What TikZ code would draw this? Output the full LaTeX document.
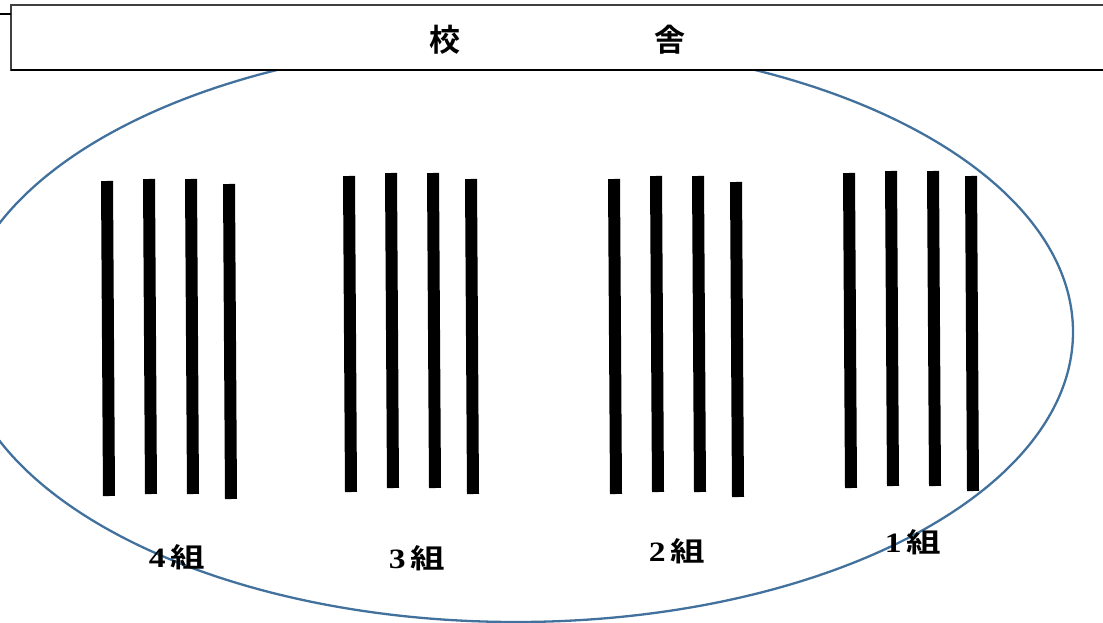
\documentclass[tikz,border=0pt]{standalone}
\usepackage{fontspec}
\newfontfamily\cjk{Noto Sans CJK JP}[BoldFont={* Bold}]
\newfontfamily\numf{Liberation Serif}
\definecolor{ellblue}{HTML}{41719C}
\newcommand{\grp}[1]{\scalebox{1.2}[1]{\numf\bfseries\fontsize{28}{28}\selectfont #1}\kern5pt\scalebox{1.28}[1]{組}}
\begin{document}
\begin{tikzpicture}[x=1pt,y=-1pt,
  barline/.style={line width=12pt,line cap=butt,black},
  grplabel/.style={inner sep=0pt,font=\cjk\bfseries\fontsize{27}{29}\selectfont},
  titletext/.style={inner sep=0pt,font=\cjk\bfseries\fontsize{31}{33}\selectfont}]
\useasboundingbox (0,0) rectangle (1103,623);
\clip (0,0) rectangle (1103,623);
% ellipse
\draw[ellblue,line width=2.3pt] (516,332) ellipse [x radius=557,y radius=290];
% building header
\draw[fill=white,draw=black!75,line width=1.3pt] (11,5) rectangle (1110,70);
\draw[black,line width=1.4pt] (11,70) -- (1110,70);
\draw[black,line width=1.5pt] (0,14) -- (11,14);
\node[titletext] (t1) at (445,40) {校};
\node[titletext] (t2) at (670,40) {舎};
% bars
\foreach \x/\t/\b in {107/181/496,149/179/494,191/179/494,229/184/499,
                      349/176/492,391/173/488,433/173/488,471/179/494,
                      614/179/494,656/176/492,698/176/492,736/182/497,
                      849/173/488,891/171/486,933/171/486,971/176/491}
  \draw[barline] (\x,\t) -- (\x+2,\b);
% labels
\node[grplabel] (g4) at (177,557) {\grp{4}};
\node[grplabel] (g3) at (417,558) {\grp{3}};
\node[grplabel] (g2) at (677,551) {\grp{2}};
\node[grplabel] (g1) at (913,542) {\grp{1}};
\end{tikzpicture}
\end{document}
